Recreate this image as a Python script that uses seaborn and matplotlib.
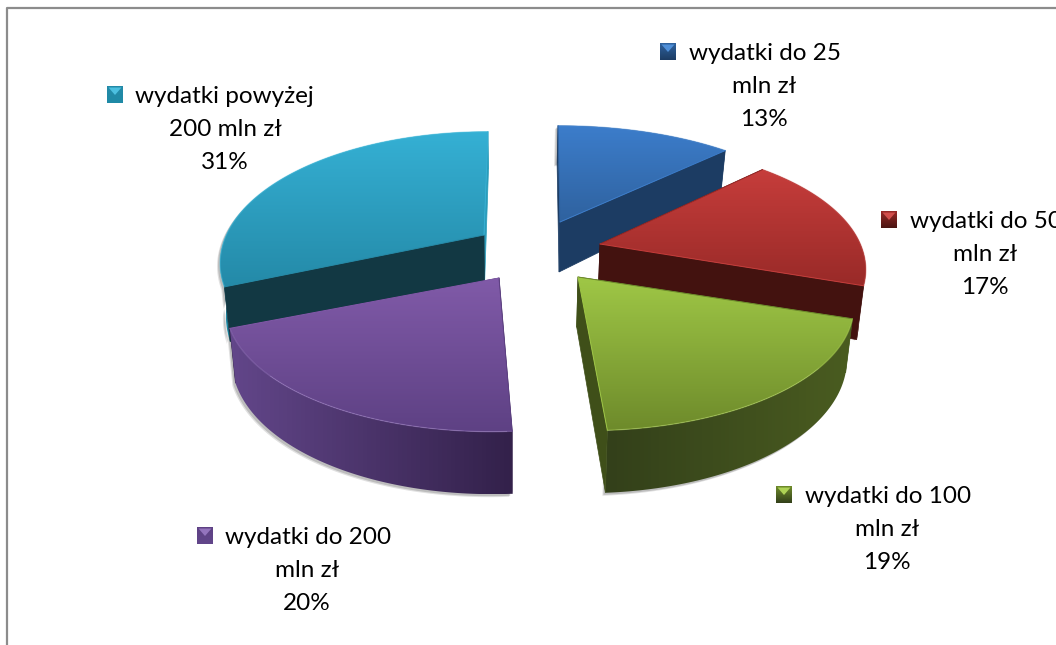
import numpy as np
import seaborn as sns
import matplotlib
matplotlib.use("Agg")
import matplotlib.pyplot as plt
from matplotlib.patches import Polygon

categories = ["wydatki do 25", "wydatki do 50", "wydatki do 100", "wydatki do 200", "wydatki powyżej"]
second_lines = ["mln zł", "mln zł", "mln zł", "mln zł", "200 mln zł"]
values = [13, 17, 19, 20, 31]

# apex of each exploded slice, in picture pixels, with small per slice corrections
apex = [(560, 222), (600, 244), (578, 277), (499, 278), (484, 235)]
skew = [-2, 0, -9, 7, 4]
x_scale = [1.015, 0.99, 1.02, 1.012, 0.98]
y_scale = [0.96, 1.0, 1.0, 1.0, 1.03]

top_colors = [("#3c7dcb", "#2f629f"), ("#c63d3b", "#992a28"), ("#9fc746", "#6e8b2b"),
              ("#805aa8", "#5e4184"), ("#35b0d4", "#248aa8")]
wall_colors = [("#1d3d64", "#1d3d64"), ("#4a1512", "#3d100e"), ("#33401a", "#4a5c20"),
               ("#62468a", "#33214a"), ("#1f8aa6", "#2a9cba")]
face_colors = ["#1c3c63", "#43120f", "#3f4f19", "#33214a", "#123843"]
rim_colors = ["#4f8fd8", "#d24f4c", "#aed255", "#9474bd", "#4cc0e0"]
order = [4, 0, 1, 3, 2]

# label layout: start of first line, centre of the other lines, first baseline, key
label_x = [689, 910, 805, 225, 135]
center_x = [764, 985, 887, 307, 225]
label_y = [60, 228, 503, 544, 103]
marker_x = [660, 881, 776, 197, 107]
line_gap = 33

RX, RY, PERSP, DEPTH = 263, 127, 0.21, 50


def rim(i, a):
    cx, cy = apex[i]
    w = 1 - PERSP * np.cos(a)
    x = cx + RX * x_scale[i] * np.sin(a) * w + skew[i] * np.cos(a)
    return x, cy - RY * y_scale[i] * np.cos(a) * w


def depth(a):
    return DEPTH * (1 - 0.25 * np.cos(a))


def lower(x):
    # bottom edge of the cake leans a little towards the middle
    return x - (x - 512) * 0.02


def grad_fill(ax, pts, colors, vertical=True, z=2):
    pts = np.array(pts)
    cmap = sns.blend_palette(colors, as_cmap=True)
    g = np.linspace(0, 1, 64)
    g = g[:, None] if vertical else g[None, :]
    x0, y0 = pts.min(axis=0)
    x1, y1 = pts.max(axis=0)
    im = ax.imshow(g, cmap=cmap, extent=(x0, x1, y1, y0), aspect="auto", zorder=z)
    im.set_clip_path(Polygon(pts, closed=True, transform=ax.transData))


sns.set_theme(style="white")
plt.rcParams["font.family"] = ["Lato", "DejaVu Sans"]

fig = plt.figure(figsize=(10.56, 6.45), dpi=100)
ax = fig.add_axes([0, 0, 1, 1])

# chart border, only top and left are in the picture
ax.plot([7, 7, 1056], [645, 8, 8], color="#8c8c8c", lw=1.6, zorder=1)

fracs = np.array(values) / sum(values)
ends = np.cumsum(fracs) * 2 * np.pi
starts = ends - fracs * 2 * np.pi

for i in order:
    t = np.linspace(starts[i], ends[i], 80)
    rx, ry = rim(i, t)
    sil = np.r_[np.c_[rx, ry], np.c_[lower(rx), ry + depth(t)][::-1]]
    for off, al in [(3, 0.18), (2, 0.25)]:
        ax.add_patch(Polygon(sil + [-off, off], closed=True, color="#555555", alpha=al, lw=0, zorder=1.5))

z = 2
for i in order:
    cx, cy = apex[i]
    t = np.linspace(starts[i], ends[i], 80)
    rx, ry = rim(i, t)
    wall = np.r_[np.c_[rx, ry], np.c_[lower(rx), ry + depth(t)][::-1]]
    grad_fill(ax, wall, wall_colors[i], vertical=False, z=z + 0.1)
    for a, is_end in ((starts[i], False), (ends[i], True)):
        ox, oy = rim(i, a)
        face = [(cx, cy), (ox, oy), (lower(ox), oy + depth(a)), (lower(cx), cy + DEPTH)]
        # the cut face turned to the viewer goes over the wall, the other one under it
        in_front = is_end == (np.sin(a) > 0)
        color = face_colors[i] if in_front else wall_colors[i][1]
        ax.add_patch(Polygon(face, closed=True, color=color, lw=0.5,
                             zorder=z + (0.15 if in_front else 0.05)))
    top = np.r_[[(cx, cy)], np.c_[rx, ry]]
    grad_fill(ax, top, top_colors[i], z=z + 0.2)
    ax.plot(rx, ry, color=rim_colors[i], lw=0.9, alpha=0.5, zorder=z + 0.3)
    ax.plot([cx, rx[0]], [cy, ry[0]], color=top_colors[i][1], lw=0.7, zorder=z + 0.3)
    ax.plot([cx, rx[-1]], [cy, ry[-1]], color=top_colors[i][0], lw=0.7, zorder=z + 0.3)
    z += 1

# labels with their little bevelled key
for i in range(len(values)):
    y = label_y[i]
    ax.text(label_x[i], y, categories[i], fontsize=17.5, color="black", ha="left", va="baseline", zorder=20)
    ax.text(center_x[i], y + line_gap, second_lines[i], fontsize=17.5, color="black", ha="center", va="baseline", zorder=20)
    ax.text(center_x[i], y + 2 * line_gap, f"{values[i]}%", fontsize=17.5, color="black", ha="center", va="baseline", zorder=20)
    mx, my = marker_x[i], y - 17
    square = [(mx, my), (mx + 16, my), (mx + 16, my + 17), (mx, my + 17)]
    grad_fill(ax, square, (top_colors[i][1], wall_colors[i][0]), z=20)
    tri = [(mx + 1.5, my + 1.5), (mx + 14.5, my + 1.5), (mx + 8, my + 9)]
    ax.add_patch(Polygon(tri, closed=True, color=rim_colors[i], lw=0, zorder=21))

ax.set_xlim(0, 1056)
ax.set_ylim(645, 0)
ax.axis("off")
fig.savefig("out.png", dpi=100, facecolor="white")
